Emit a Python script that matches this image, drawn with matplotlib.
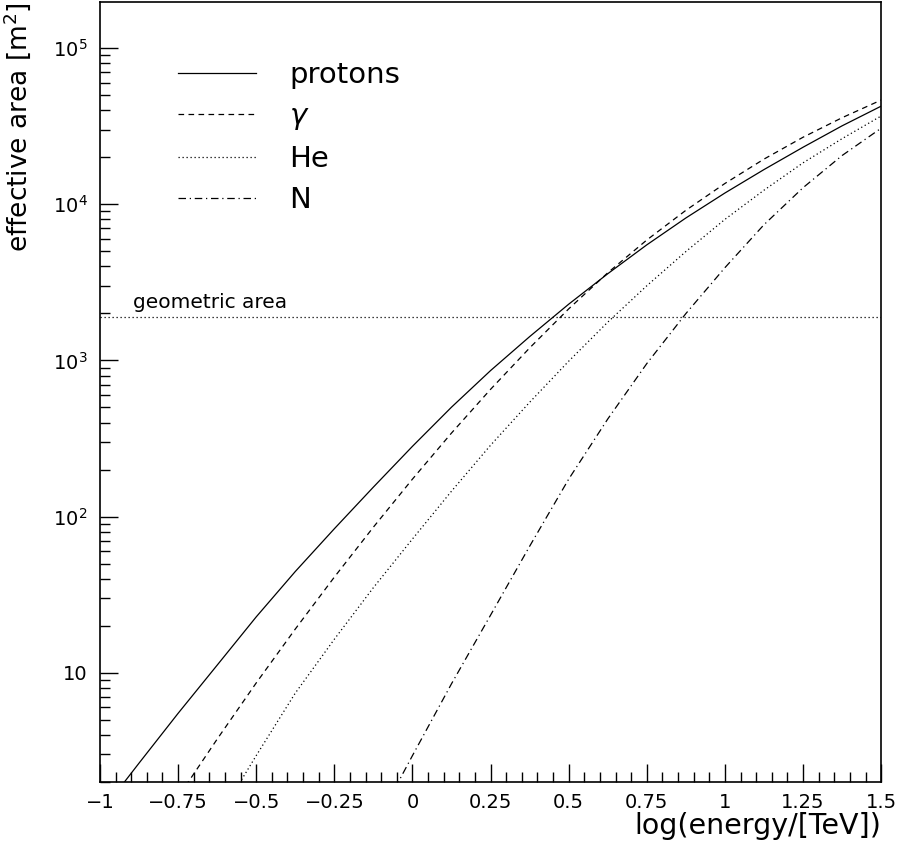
import numpy as np
import matplotlib
matplotlib.use("Agg")
import matplotlib.pyplot as plt
from matplotlib.ticker import LogLocator, MultipleLocator, FixedLocator, FixedFormatter, NullFormatter

plt.rcParams.update({
    "font.family": "DejaVu Sans",
    "mathtext.fontset": "dejavusans",
})

# log10(E/TeV) grid and effective areas [m^2]
x_protons = [-0.95, -0.875, -0.75, -0.625, -0.5, -0.375, -0.25, -0.125, 0.0, 0.125, 0.25,
             0.375, 0.5, 0.625, 0.75, 0.875, 1.0, 1.125, 1.25, 1.375, 1.5]
a_protons = [1.69, 2.64, 5.50, 11.19, 22.8, 44.5, 83.6, 154.5, 281.8, 502, 861,
             1420, 2291, 3589, 5495, 8166, 11800, 16670, 23170, 31770, 42460]

x_gamma = [-0.78, -0.75, -0.625, -0.5, -0.375, -0.25, -0.125, 0.0, 0.125, 0.25,
           0.375, 0.5, 0.625, 0.75, 0.875, 1.0, 1.125, 1.25, 1.375, 1.5]
a_gamma = [1.31, 1.60, 3.76, 8.61, 19.05, 40.97, 85.6, 173.8, 342.8, 653.1,
           1202, 2138, 3639, 5902, 9141, 13580, 19450, 26850, 35810, 46450]

x_he = [-0.6, -0.5, -0.375, -0.25, -0.125, 0.0, 0.125, 0.25, 0.375, 0.5,
        0.625, 0.75, 0.875, 1.0, 1.125, 1.25, 1.375, 1.5]
a_he = [1.38, 2.95, 7.41, 16.4, 35.1, 71.9, 145.5, 286.4, 539.5, 988.6,
        1758, 3006, 4977, 8000, 12300, 18410, 26300, 36730]

x_n = [-0.08, 0.0, 0.125, 0.25, 0.375, 0.5, 0.625, 0.75, 0.875, 1.0, 1.125, 1.25, 1.375, 1.5]
a_n = [1.48, 2.95, 8.51, 23.4, 64.6, 173.8, 421.7, 955, 1995, 3926, 7396, 12760, 20510, 30690]

geometric_area = 1900
labels = ["protons", r"$\gamma$", "He", "N"]

fig = plt.figure(figsize=(8.99, 8.46), dpi=100)
ax = fig.add_axes([0.1112, 0.0757, 0.8690, 0.9219])

lw = 0.9
ax.plot(x_protons, a_protons, color="black", lw=lw, label=labels[0])
ax.plot(x_gamma, a_gamma, color="black", lw=lw, linestyle=(0, (4.5, 3.5)), label=labels[1])
ax.plot(x_he, a_he, color="black", lw=lw, linestyle=(0, (1, 2.2)), label=labels[2])
ax.plot(x_n, a_n, color="black", lw=lw, linestyle=(0, (6, 3, 1, 3)), label=labels[3])

ax.axhline(geometric_area, color="black", lw=0.9, linestyle=(0, (1, 2.2)))
ax.text(-0.894, geometric_area * 1.14, "geometric area", fontsize=14.5, ha="left", va="baseline")

ax.set_xlim(-1, 1.5)
ax.set_ylim(2, 1.97e5)
ax.set_yscale("log")

# ticks (inside, left and bottom only)
xt = [-1, -0.75, -0.5, -0.25, 0, 0.25, 0.5, 0.75, 1, 1.25, 1.5]
xl = ["\u22121", "\u22120.75", "\u22120.5", "\u22120.25", "0", "0.25", "0.5", "0.75", "1", "1.25", "1.5"]
ax.xaxis.set_major_locator(FixedLocator(xt))
ax.xaxis.set_major_formatter(FixedFormatter(xl))
ax.xaxis.set_minor_locator(MultipleLocator(0.05))

yt = [10, 1e2, 1e3, 1e4, 1e5]
yl = ["10", r"$10^{2}$", r"$10^{3}$", r"$10^{4}$", r"$10^{5}$"]
ax.yaxis.set_major_locator(FixedLocator(yt))
ax.yaxis.set_major_formatter(FixedFormatter(yl))
ax.yaxis.set_minor_locator(LogLocator(base=10, subs=np.arange(2, 10), numticks=20))
ax.yaxis.set_minor_formatter(NullFormatter())

ax.tick_params(axis="both", which="major", direction="in", length=13, width=1, labelsize=14, top=False, right=False)
ax.tick_params(axis="both", which="minor", direction="in", length=7, width=1, top=False, right=False)
ax.tick_params(axis="y", which="major", pad=9)
ax.tick_params(axis="x", which="major", pad=8)

for s in ax.spines.values():
    s.set_linewidth(1.2)

ax.set_xlabel("log(energy/[TeV])", fontsize=20.5, loc="right", labelpad=0)
ax.set_ylabel("effective area [m$^{2}$]", fontsize=19, loc="top", labelpad=14)

ax.legend(loc="upper left", bbox_to_anchor=(0.066, 0.958), frameon=False, fontsize=21,
          handlelength=2.67, handletextpad=1.16, labelspacing=0.45)

fig.savefig("out.png", dpi=100)
